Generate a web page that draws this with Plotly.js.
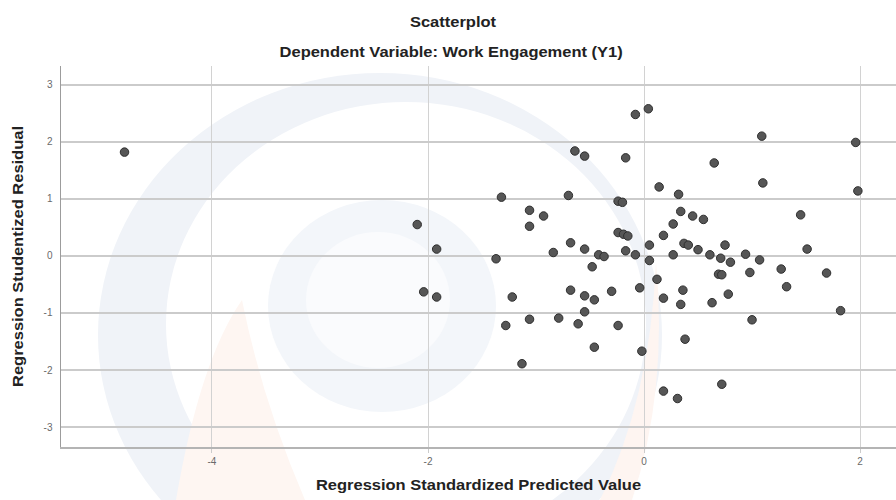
<!DOCTYPE html>
<html>
<head>
<meta charset="utf-8">
<script src="https://cdn.plot.ly/plotly-3.0.1.min.js"></script>
<style>html,body{margin:0;padding:0;background:#fff;}#chart{width:896px;height:500px;}</style>
</head>
<body>
<div id="chart"></div>
<script>
// ---- data ----
var predicted = [
  -4.81, -0.08, 0.04, 1.09, 1.96, -0.64, -0.55, -0.17, 0.65, 1.10,
  1.98, 0.14, 0.32, -1.32, -0.70, -0.24, -0.20, -1.06, -0.93, -1.06,
  -2.10, 1.45, 0.34, 0.45, 0.55, 0.27, 0.18, -0.24, -0.19, -0.15,
  -0.68, -0.55, -0.84, -1.92, -1.37, -0.42, -0.37, -0.17, -0.08, -0.48,
  0.05, 0.37, 0.41, 0.50, 0.75, 1.51, 0.27, 0.05, 0.61, 0.71,
  0.80, 0.94, 1.07, 1.27, 1.69, 0.98, 0.69, 0.72, 0.12, 1.32,
  -0.04, -0.30, 0.36, -2.04, -1.92, -1.22, -0.68, -0.55, -0.46, 0.18,
  0.34, 0.63, 0.78, 1.82, -0.55, -1.28, -1.06, -0.79, -0.61, -0.24,
  1.00, 0.38, -0.46, -0.02, -1.13, 0.72, 0.18, 0.31
];
var residual = [
  1.82, 2.48, 2.58, 2.10, 1.99, 1.84, 1.75, 1.72, 1.63, 1.28,
  1.14, 1.21, 1.08, 1.03, 1.06, 0.96, 0.94, 0.80, 0.70, 0.52,
  0.55, 0.72, 0.78, 0.70, 0.64, 0.56, 0.36, 0.41, 0.38, 0.35,
  0.23, 0.12, 0.06, 0.12, -0.05, 0.02, -0.01, 0.09, 0.02, -0.19,
  0.19, 0.22, 0.19, 0.11, 0.19, 0.12, 0.02, -0.08, 0.02, -0.04,
  -0.11, 0.03, -0.07, -0.23, -0.30, -0.29, -0.32, -0.33, -0.41, -0.54,
  -0.56, -0.62, -0.60, -0.63, -0.72, -0.72, -0.60, -0.70, -0.77, -0.74,
  -0.85, -0.82, -0.67, -0.96, -0.98, -1.22, -1.11, -1.09, -1.19, -1.22,
  -1.12, -1.46, -1.60, -1.67, -1.89, -2.25, -2.37, -2.50
];
var xTickVals = [-4, -2, 0, 2];
var xTickText = ['-4', '-2', '0', '2'];
var yTickVals = [-3, -2, -1, 0, 1, 2, 3];
var yTickText = ['-3', '-2', '-1', '0', '1', '2', '3'];
var chartTitle = 'Scatterplot';
var chartSubtitle = 'Dependent Variable: Work Engagement (Y1)';
var xTitle = 'Regression Standardized Predicted Value';
var yTitle = 'Regression Studentized Residual';

// ---- faint background watermark (decorative, in pixel-based paper coords) ----
var M = {l: 61, r: 0, t: 66, b: 53}, W = 896, H = 500;
var pw = W - M.l - M.r, ph = H - M.t - M.b;
function px(x) { return (x - M.l) / pw; }
function py(y) { return (H - M.b - y) / ph; }
function ell(cx, cy, rx, ry, fill) {
  return {type: 'circle', xref: 'paper', yref: 'paper', layer: 'below',
    x0: px(cx - rx), x1: px(cx + rx), y0: py(cy + ry), y1: py(cy - ry),
    fillcolor: fill, line: {width: 0}};
}
function pathShape(pts, fill) {
  var d = 'M' + px(pts[0][0]) + ',' + py(pts[0][1]);
  for (var i = 1; i < pts.length; i += 2) {
    d += ' Q' + px(pts[i][0]) + ',' + py(pts[i][1]) + ' ' + px(pts[i + 1][0]) + ',' + py(pts[i + 1][1]);
  }
  d += ' Z';
  return {type: 'path', xref: 'paper', yref: 'paper', layer: 'below', path: d,
    fillcolor: fill, line: {width: 0}};
}
var shapes = [
  ell(380, 335, 282, 262, 'rgb(240,243,248)'),
  ell(406, 324, 240, 222, 'rgb(255,255,255)'),
  ell(382, 306, 114, 106, 'rgb(243,246,250)'),
  ell(378, 300, 72, 68, 'rgb(250,251,253)'),
  pathShape([[176, 500], [200, 360], [242, 300], [262, 400], [305, 500]], 'rgb(254,246,242)'),
  pathShape([[600, 500], [650, 400], [656, 262], [668, 390], [632, 500]], 'rgb(254,245,241)')
];

var trace = {
  type: 'scatter', mode: 'markers', x: predicted, y: residual,
  marker: {size: 8.5, color: '#565656', line: {color: '#2f2f2f', width: 1}},
  hoverinfo: 'x+y', showlegend: false
};

var titleFont = {family: 'Liberation Sans, Arial, sans-serif', size: 15, color: '#222222', weight: 'bold'};
var layout = {
  width: W, height: H,
  margin: M,
  paper_bgcolor: '#ffffff', plot_bgcolor: 'rgba(0,0,0,0)',
  font: {family: 'Liberation Sans, Arial, sans-serif'},
  title: {text: chartTitle, font: titleFont, x: 453 / W, xanchor: 'center',
    y: 1 - 22 / H, yanchor: 'middle', xref: 'container', yref: 'container'},
  annotations: [{text: chartSubtitle, xref: 'paper', yref: 'paper',
    x: px(451), y: py(52), xanchor: 'center', yanchor: 'middle',
    showarrow: false, font: titleFont}],
  xaxis: {
    range: [-5.398, 2.333], tickmode: 'array', tickvals: xTickVals, ticktext: xTickText,
    showgrid: true, gridcolor: '#d2d2d2', gridwidth: 1, zeroline: false,
    showline: true, linecolor: '#b4b4b4', linewidth: 2,
    ticks: 'outside', ticklen: 4, tickcolor: '#cccccc', tickwidth: 1,
    tickfont: {size: 10, color: '#6a6a6a'},
    title: {text: xTitle, font: titleFont, standoff: 14}
  },
  yaxis: {
    range: [-3.35, 3.33], tickmode: 'array', tickvals: yTickVals, ticktext: yTickText,
    showgrid: true, gridcolor: '#cbcbcb', gridwidth: 1.5, zeroline: false,
    showline: true, linecolor: '#9c9c9c', linewidth: 1.5,
    ticks: '', ticklabelstandoff: 5,
    tickfont: {size: 10, color: '#6a6a6a'},
    title: {text: yTitle, font: titleFont, standoff: 16}
  },
  shapes: shapes
};

Plotly.newPlot('chart', [trace], layout, {staticPlot: true, displayModeBar: false}).then(function (gd) {
  // widen title texts slightly along their writing direction, like the reference
  var sel = gd.querySelectorAll('.gtitle, .xtitle, .ytitle, .annotation-text');
  sel.forEach(function (t) {
    var x = parseFloat(t.getAttribute('x')) || 0;
    var tr = t.getAttribute('transform') || '';
    if (t.classList.contains('annotation-text')) {
      var bb = t.getBBox(); x = bb.x + bb.width / 2;
    }
    t.setAttribute('transform', tr + ' translate(' + x + ',0) scale(1.1,1) translate(' + (-x) + ',0)');
  });
});
</script>
</body>
</html>
